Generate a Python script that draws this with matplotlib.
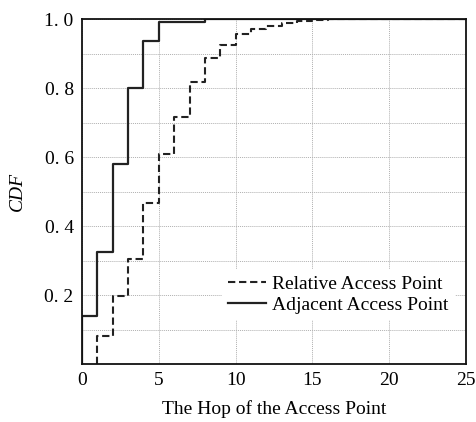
import matplotlib
matplotlib.use("Agg")
import matplotlib.pyplot as plt

plt.rcParams['font.family'] = ['Liberation Serif', 'DejaVu Serif']

# Adjacent Access Point (solid)
adj_hops = [0, 0, 1, 2, 3, 4, 5, 8, 25]
adj_cdf = [0.0, 0.14, 0.325, 0.58, 0.80, 0.935, 0.99, 1.0, 1.0]

# Relative Access Point (dashed)
rel_hops = [1, 1, 2, 3, 4, 5, 6, 7, 8, 9, 10, 11, 12, 13, 14, 15, 16, 25]
rel_cdf = [0.0, 0.082, 0.197, 0.305, 0.468, 0.61, 0.717, 0.818, 0.886,
           0.925, 0.957, 0.971, 0.98, 0.987, 0.994, 0.997, 1.0, 1.0]

xticks = [0, 5, 10, 15, 20, 25]
yticks = [0.2, 0.4, 0.6, 0.8, 1.0]
ytick_labels = ['0. 2', '0. 4', '0. 6', '0. 8', '1. 0']

fig = plt.figure(figsize=(4.76, 4.22), dpi=100)
ax = fig.add_axes([82/476, 1-364/422, 384/476, 345/422])

ax.step(rel_hops, rel_cdf, where='post', color='#222222', lw=1.5,
        linestyle=(0, (3.5, 1.8)), label='Relative Access Point')
ax.step(adj_hops, adj_cdf, where='post', color='#222222', lw=1.6,
        linestyle='-', label='Adjacent Access Point')

ax.set_xlim(0, 25)
ax.set_ylim(0, 1.0)
ax.set_xticks(xticks)
ax.set_yticks(yticks)
ax.set_yticklabels(ytick_labels)
ax.set_yticks([0.1, 0.3, 0.5, 0.7, 0.9], minor=True)
ax.tick_params(axis='x', which='both', length=0, labelsize=14, pad=6)
ax.tick_params(axis='y', which='both', length=0, labelsize=14, pad=6)
ax.grid(True, which='both', color='#b0b0b0', linestyle=(0, (1, 1)), lw=0.7)
ax.set_axisbelow(True)
for s in ax.spines.values():
    s.set_linewidth(1.3)
    s.set_color('#111111')

ax.set_xlabel('The Hop of the Access Point', fontsize=14, labelpad=8)
ax.set_ylabel('CDF', fontsize=14, style='italic', labelpad=13)

leg = ax.legend(loc='center', bbox_to_anchor=(0.667, 0.201), fontsize=14,
                frameon=True, fancybox=False, handlelength=2.0,
                handletextpad=0.3, labelspacing=0.2, borderpad=0.3)
leg.get_frame().set_facecolor('white')
leg.get_frame().set_edgecolor('none')
leg.get_frame().set_alpha(1)

fig.savefig('out.png', dpi=100)
